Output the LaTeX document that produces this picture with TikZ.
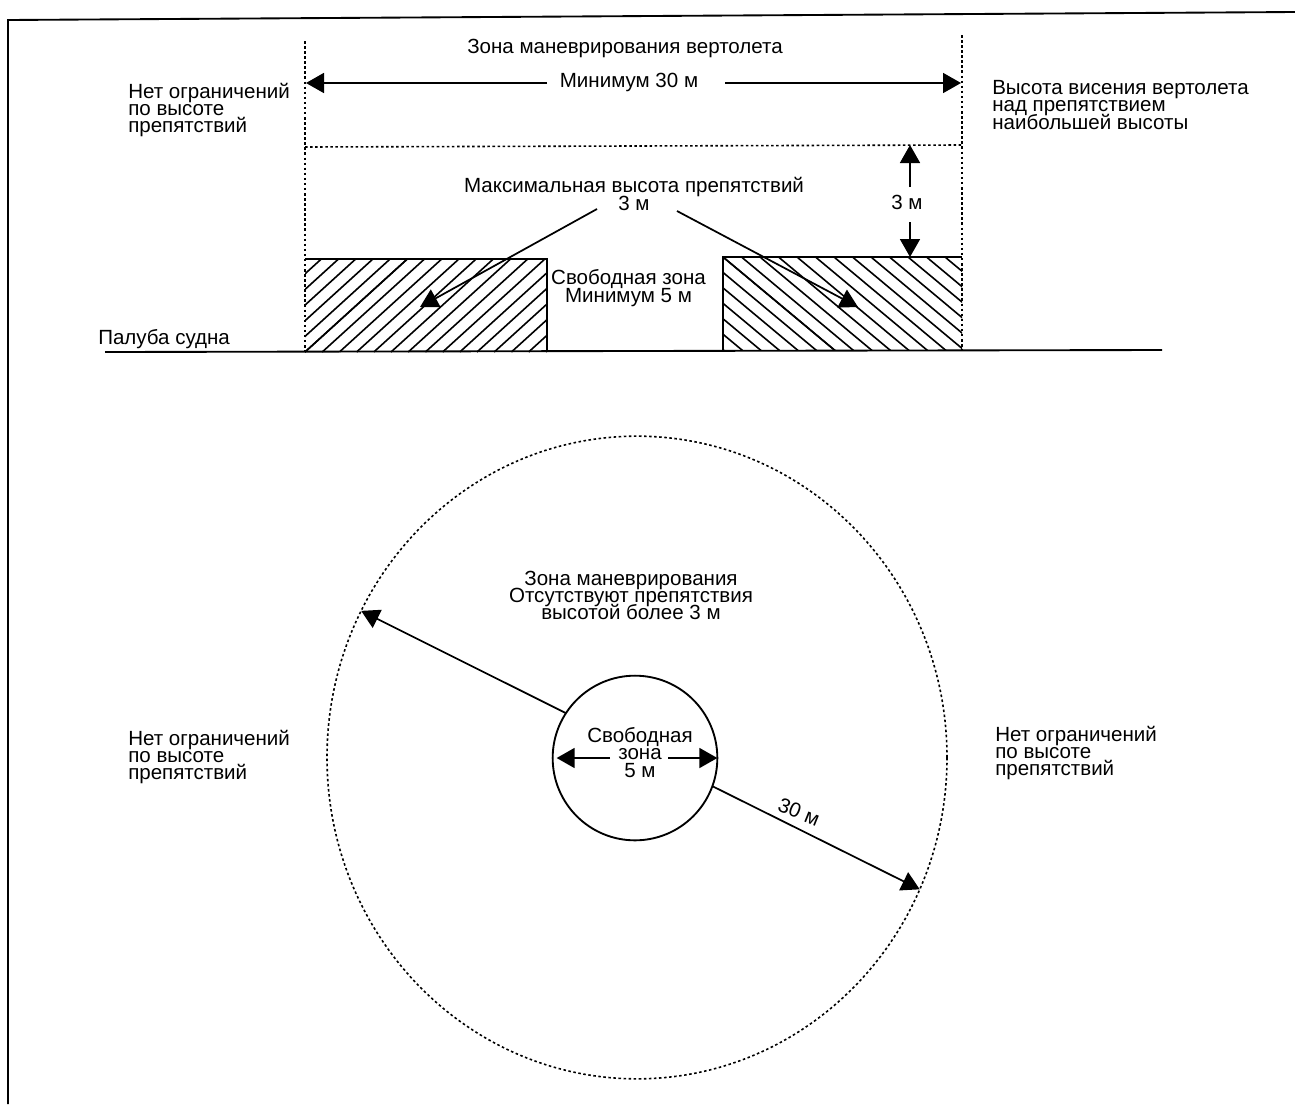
\documentclass[tikz,border=0pt]{standalone}
\usepackage{fontspec}
\setmainfont{Liberation Sans}
\usetikzlibrary{arrows.meta,shapes.geometric}
\AtBeginDocument{\setlength{\lineskiplimit}{-100pt}}
\tikzset{
  x=0.75pt,y=-0.75pt,
  lbl/.style={inner sep=0pt,font=\fontsize{15.4}{13}\selectfont,text=black},
  lblL/.style={lbl,align=left,anchor=west},
  lblC/.style={lbl,align=center},
  solidline/.style={line width=1.4pt,black},
  dotline/.style={line width=1.2pt,black,dash pattern=on 1.9pt off 1.9pt},
  hatchline/.style={line width=1.2pt,black},
  arr/.style={line width=1.3pt,black,-{Triangle[length=13.5pt,width=15pt]}},
  ring/.style={draw,inner sep=0pt,outer sep=0pt},
}
\begin{document}
\begin{tikzpicture}
\useasboundingbox (0,0) rectangle (1295,1104);
% frame
\coordinate (fTL) at (8,20);
\coordinate (fTR) at (1295,12);
\coordinate (fBL) at (8,1104);
\draw[solidline] (fBL) -- (fTL) -- (fTR);
% hatching
\begin{scope}
\clip (305,259) rectangle (547,352);
\foreach \i in {0,...,22}{
  \draw[hatchline] (305+\i*17.2,352) -- ++(110,-100);
  \draw[hatchline] (305-\i*17.2,352) -- ++(110,-100);
}
\end{scope}
\begin{scope}
\clip (723,257) rectangle (962,350);
\foreach \i in {0,...,22}{
  \draw[hatchline] (723+\i*18.5,257) -- ++(115,96);
  \draw[hatchline] (723-\i*18.5,257) -- ++(115,96);
}
\end{scope}
% side view outline
\coordinate (dL) at (105,352);
\coordinate (dR) at (1162,350);
\draw[solidline] (dL) -- (dR);
\coordinate (a1) at (305,259); \coordinate (a2) at (547,259); \coordinate (a3) at (547,352);
\coordinate (b1) at (723,351); \coordinate (b2) at (723,257); \coordinate (b3) at (962,257);
\draw[solidline] (a1) -- (a2) -- (a3);
\draw[solidline] (b1) -- (b2) -- (b3);
\coordinate (v1t) at (305,41); \coordinate (v1b) at (305,352);
\coordinate (v2t) at (962,35); \coordinate (v2b) at (962,350);
\coordinate (hL) at (305,147); \coordinate (hR) at (962,145);
\draw[dotline] (v1t) -- (v1b);
\draw[dotline] (v2t) -- (v2b);
\draw[dotline] (hL) -- (hR);
% side view texts
\node[lblC] (zonaTop) at (625,48) {Зона маневрирования вертолета};
\node[lblC] (min30) at (629,82) {Минимум 30 м};
\node[lblL] (noLimA) at (128,110) {Нет ограничений\\по высоте\\препятствий};
\node[lblL] (hover) at (992,105) {Высота висения вертолета\\над препятствием\\наибольшей высоты};
\node[lblC] (maxH) at (634,194) {Максимальная высота препятствий\\3 м};
\node[lblC] (three) at (907,202) {3 м};
\node[lblC] (free) at (628.5,288) {Свободная зона\\Минимум 5 м};
\node[lbl,anchor=west] (deck) at (98,339) {Палуба судна};
% side view arrows
\coordinate (w1) at (306,83); \coordinate (w2) at (961,83);
\coordinate (wa) at (547,83); \coordinate (wb) at (725,83);
\coordinate (t1) at (910,187); \coordinate (t2) at (910,145);
\coordinate (t3) at (910,222); \coordinate (t4) at (910,257);
\draw[arr] (wa) -- (w1);
\draw[arr] (wb) -- (w2);
\draw[arr] (t1) -- (t2);
\draw[arr] (t3) -- (t4);
\coordinate (q1) at (597,209); \coordinate (p1) at (420,307);
\coordinate (q2) at (677,211); \coordinate (p2) at (858,307);
\draw[arr] (q1) -- (p1);
\draw[arr] (q2) -- (p2);
% plan view
\node[ring,dotline,ellipse,minimum width=465pt,minimum height=482pt] (outer) at (637,757.5) {};
\node[ring,solidline,circle,minimum size=123.5pt] (inner) at (635,758) {};
\node[lblC] (zonaM) at (631,595.5) {Зона маневрирования\\Отсутствуют препятствия\\высотой более 3 м};
\node[lblC] (freeC) at (640,752.5) {Свободная\\зона\\5 м};
\node[lblL] (noLimB) at (128,757) {Нет ограничений\\по высоте\\препятствий};
\node[lblL] (noLimC) at (995,753) {Нет ограничений\\по высоте\\препятствий};
\node[lbl,rotate=-22] (r30) at (799,812) {30 м};
\draw[arr] (inner.147.6) -- (outer.152);
\draw[arr] (inner.-20.3) -- (outer.-25.1);
\coordinate (c1) at (610,758); \coordinate (c2) at (668,758);
\draw[arr,shorten >=3pt] (c1) -- (inner.180);
\draw[arr] (c2) -- (inner.0);
\end{tikzpicture}
\end{document}
